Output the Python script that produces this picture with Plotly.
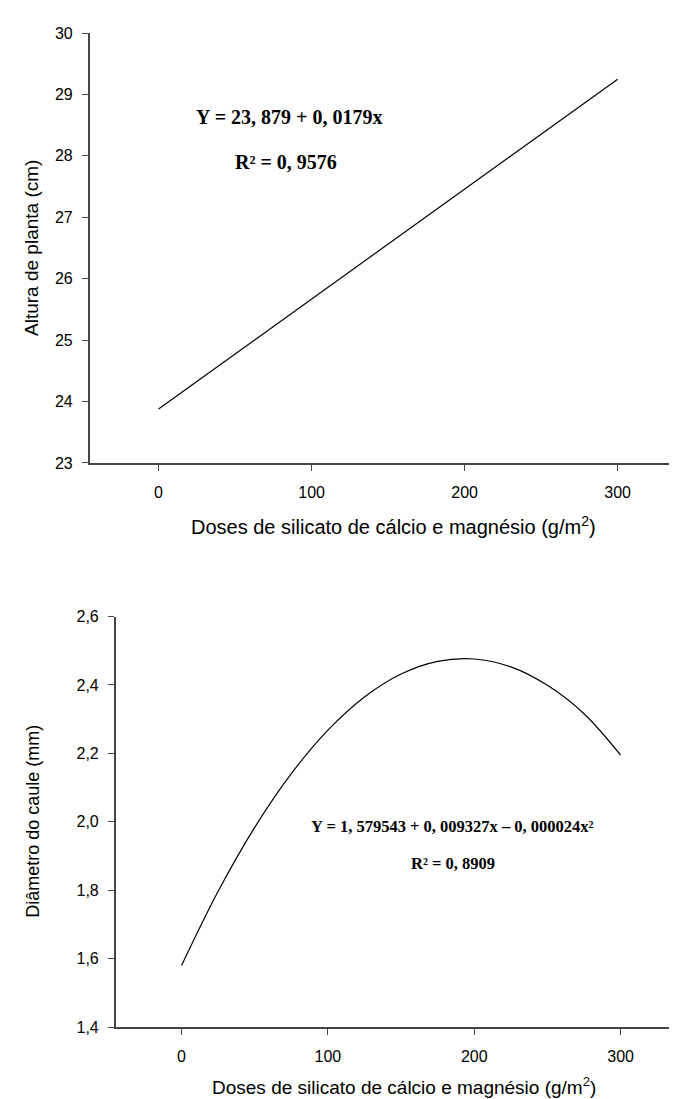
import plotly.graph_objects as go

W, H = 677, 1099

# Top chart: plant height (linear fit)
top_x = [0, 300]
top_y = [23.879, 29.249]
top_yticks = [23, 24, 25, 26, 27, 28, 29, 30]
top_eq = "Y = 23, 879 + 0, 0179x"
top_r2 = "R\u00b2 = 0, 9576"

# Bottom chart: stem diameter (quadratic fit)
bot_x = [0, 25, 50, 75, 100, 125, 150, 175, 200, 225, 250, 275, 300]
bot_y = [1.580, 1.797, 1.984, 2.141, 2.268, 2.365, 2.432, 2.469, 2.476, 2.453, 2.399, 2.316, 2.195]
bot_yticks = [1.4, 1.6, 1.8, 2.0, 2.2, 2.4, 2.6]
bot_yticklabels = ["1,4", "1,6", "1,8", "2,0", "2,2", "2,4", "2,6"]
bot_eq = "Y = 1, 579543 + 0, 009327x \u2013 0, 000024x\u00b2"
bot_r2 = "R\u00b2 = 0, 8909"

xticks = [0, 100, 200, 300]
x_title = "Doses de silicato de cálcio e magnésio (g/m<sup>2</sup>)"
top_ytitle = "Altura de planta (cm)"
bot_ytitle = "Diâmetro do caule (mm)"

SANS = "Liberation Sans, Arial, sans-serif"
SERIF = "Liberation Serif, Times New Roman, serif"

fig = go.Figure()
fig.add_trace(go.Scatter(x=top_x, y=top_y, mode="lines", line=dict(color="black", width=1.2),
                         xaxis="x", yaxis="y", showlegend=False, hoverinfo="skip"))
fig.add_trace(go.Scatter(x=bot_x, y=bot_y, mode="lines", line=dict(color="black", width=1.2, shape="spline"),
                         xaxis="x2", yaxis="y2", showlegend=False, hoverinfo="skip"))

def px_x(p):
    return p / W

def px_y(p):
    return 1 - p / H

axis_common = dict(showgrid=False, zeroline=False, showline=True, linecolor="#444", linewidth=1.5,
                   ticks="outside", ticklen=6, tickwidth=1, tickcolor="#444",
                   tickfont=dict(family=SANS, size=16, color="black"))

fig.update_layout(
    width=W, height=H,
    margin=dict(l=0, r=0, t=0, b=0),
    paper_bgcolor="white", plot_bgcolor="white",
    xaxis=dict(domain=[px_x(81.7), 1], range=[-45, 344], tickvals=xticks, anchor="y",
               ticklabelstandoff=8, **axis_common),
    yaxis=dict(domain=[px_y(454), px_y(17.3)], range=[23, 30], tickvals=top_yticks, anchor="x",
               ticklabelstandoff=6, **axis_common),
    xaxis2=dict(domain=[px_x(107.7), 1], range=[-45, 344], tickvals=xticks, anchor="y2",
                ticklabelstandoff=8, **axis_common),
    yaxis2=dict(domain=[px_y(1027), px_y(610)], range=[1.4, 2.6], tickvals=bot_yticks,
                ticktext=bot_yticklabels, anchor="x2", ticklabelstandoff=6, **axis_common),
)

ann = []
# axis titles
ann.append(dict(text=x_title, x=px_x(385), y=px_y(517), xref="paper", yref="paper",
                showarrow=False, xanchor="center", yanchor="middle",
                font=dict(family=SANS, size=20, color="black")))
ann.append(dict(text=x_title, x=px_x(396), y=px_y(1087), xref="paper", yref="paper",
                showarrow=False, xanchor="center", yanchor="middle",
                font=dict(family=SANS, size=19, color="black")))
ann.append(dict(text=top_ytitle, x=px_x(24), y=px_y(235.6), xref="paper", yref="paper",
                showarrow=False, xanchor="center", yanchor="middle", textangle=-90,
                font=dict(family=SANS, size=19, color="black")))
ann.append(dict(text=bot_ytitle, x=px_x(25), y=px_y(818.5), xref="paper", yref="paper",
                showarrow=False, xanchor="center", yanchor="middle", textangle=-90,
                font=dict(family=SANS, size=18, color="black")))
# equations
ann.append(dict(text="<b>" + top_eq + "</b>", x=px_x(281), y=px_y(103), xref="paper", yref="paper",
                showarrow=False, xanchor="center", yanchor="middle",
                font=dict(family=SERIF, size=20, color="black")))
ann.append(dict(text="<b>" + top_r2 + "</b>", x=px_x(277.5), y=px_y(148), xref="paper", yref="paper",
                showarrow=False, xanchor="center", yanchor="middle",
                font=dict(family=SERIF, size=20, color="black")))
ann.append(dict(text="<b>" + bot_eq + "</b>", x=px_x(444), y=px_y(823), xref="paper", yref="paper",
                showarrow=False, xanchor="center", yanchor="middle",
                font=dict(family=SERIF, size=16.5, color="black")))
ann.append(dict(text="<b>" + bot_r2 + "</b>", x=px_x(444.7), y=px_y(860.7), xref="paper", yref="paper",
                showarrow=False, xanchor="center", yanchor="middle",
                font=dict(family=SERIF, size=16.5, color="black")))

fig.update_layout(annotations=ann)
fig.write_html("out.html")
